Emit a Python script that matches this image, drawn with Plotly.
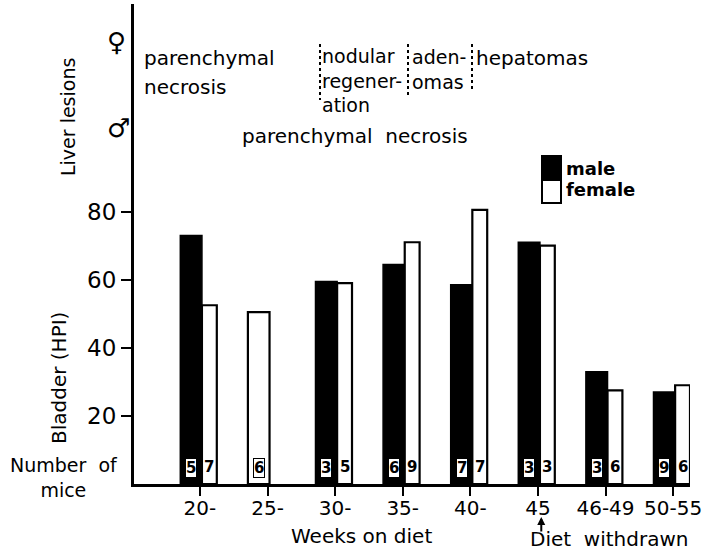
import plotly.graph_objects as go

# ---- data ----
weeks = ["20-", "25-", "30-", "35-", "40-", "45", "46-49", "50-55"]
male_hpi = [73, None, 59.5, 64.5, 58.5, 71, 33, 27]
female_hpi = [52.5, 50.5, 59, 71, 80.5, 70, 27.5, 29]
male_mice = [5, None, 3, 6, 7, 3, 3, 9]
female_mice = [7, 6, 5, 9, 7, 3, 6, 6]
yticks = [20, 40, 60, 80]

# ---- geometry (pixels of the 707x555 page) ----
FW, FH = 707, 555
L, R, T, B = 134, 690, 4, 484
PW, PH = R - L, B - T
FONT = "DejaVu Sans"

def px(x):
    return (x - L) / PW

def py(y):
    return (B - y) / PH

m_off, m_w = -0.29, 0.32
f_off, f_w = 0.03, 0.22
f_offsets = [f_off if m is not None else m_off for m in male_hpi]
f_widths = [f_w if m is not None else m_w for m in male_hpi]

fig = go.Figure()
fig.add_trace(go.Bar(x=weeks, y=male_hpi, name="male", offset=m_off, width=m_w,
                     marker=dict(color="black", line=dict(color="black", width=1.5))))
fig.add_trace(go.Bar(x=weeks, y=female_hpi, name="female", offset=f_offsets, width=f_widths,
                     marker=dict(color="white", line=dict(color="black", width=2.2))))

ann = []
# number of mice labels
for i, (mm, fm) in enumerate(zip(male_mice, female_mice)):
    if mm is not None:
        ann.append(dict(x=i + m_off + m_w / 2, y=0, xref="x", yref="y", text=f"<b>{mm}</b>",
                        showarrow=False, yanchor="bottom", yshift=6,
                        font=dict(family=FONT, size=15, color="black"),
                        bgcolor="white", bordercolor="black", borderwidth=1, borderpad=0))
        ann.append(dict(x=i + f_offsets[i] + f_widths[i] / 2, y=0, xref="x", yref="y",
                        text=f"<b>{fm}</b>", showarrow=False, yanchor="bottom", yshift=6,
                        font=dict(family=FONT, size=15, color="black")))
    else:
        ann.append(dict(x=i + f_offsets[i] + f_widths[i] / 2, y=0, xref="x", yref="y",
                        text=f"<b>{fm}</b>", showarrow=False, yanchor="bottom", yshift=6,
                        font=dict(family=FONT, size=15, color="black"),
                        bgcolor="white", bordercolor="black", borderwidth=1, borderpad=0))

def txt(x, y, s, size=20, xanchor="left", angle=0, align="left"):
    ann.append(dict(x=px(x), y=py(y), xref="paper", yref="paper", text=s, showarrow=False,
                    xanchor=xanchor, yanchor="middle", textangle=angle, align=align,
                    font=dict(family=FONT, size=size, color="black")))

# liver lesion texts
txt(142, 58, "parenchymal")
txt(142, 87, "necrosis")
txt(320, 80, "nodular<br>regener-<br>ation", size=19)
txt(410, 70, "aden-<br>omas", size=19)
txt(474, 58, "hepatomas")
txt(240, 136, "parenchymal  necrosis")
txt(116, 42, "♀", size=26, xanchor="center")
txt(118, 128, "♂", size=26, xanchor="center")
txt(68, 117, "Liver lesions", size=19, xanchor="center", angle=-90)
txt(59, 378, "Bladder (HPI)", size=20, xanchor="center", angle=-90)
txt(64, 477, "Number  of<br>mice", size=19, xanchor="center", align="center")
txt(361, 536, "Weeks on diet", size=20, xanchor="center")
txt(609, 539, "Diet  withdrawn", size=20, xanchor="center")
txt(564, 168, "<b>male</b>", size=18)
txt(564, 190, "<b>female</b>", size=18)

# arrow for diet withdrawn
ann.append(dict(x=5.05, y=py(517), xref="x", yref="paper", ax=0, ay=16, text="",
                showarrow=True, arrowhead=2, arrowsize=0.8, arrowwidth=2, arrowcolor="black"))

shapes = []
# dotted separators
for xx, y1 in [(320, 100), (408, 97), (472, 90)]:
    shapes.append(dict(type="line", xref="paper", yref="paper", x0=px(xx), x1=px(xx),
                       y0=py(44), y1=py(y1), line=dict(color="black", width=2, dash="dot")))
# legend boxes
shapes.append(dict(type="rect", xref="paper", yref="paper", x0=px(542), x1=px(561),
                   y0=py(180), y1=py(156), fillcolor="black", line=dict(color="black", width=2)))
shapes.append(dict(type="rect", xref="paper", yref="paper", x0=px(542), x1=px(561),
                   y0=py(203), y1=py(180), fillcolor="white", line=dict(color="black", width=2)))

fig.update_layout(
    width=FW, height=FH,
    margin=dict(l=L, r=FW - R, t=T, b=FH - B),
    paper_bgcolor="white", plot_bgcolor="white",
    barmode="overlay", showlegend=False,
    font=dict(family=FONT, color="black"),
    annotations=ann, shapes=shapes,
    xaxis=dict(type="category", range=[-0.975, 7.25], showline=True, linecolor="black",
               linewidth=3, ticks="outside", ticklen=9, tickwidth=2, tickcolor="black",
               ticklabelstandoff=-5,
               tickfont=dict(family=FONT, size=20, color="black"), showgrid=False,
               zeroline=False, fixedrange=True),
    yaxis=dict(range=[0, (B - T) / 3.405], showline=True, linecolor="black", linewidth=3,
               tickvals=yticks, ticks="outside", ticklen=10, tickwidth=2, tickcolor="black",
               tickfont=dict(family=FONT, size=23, color="black"), showgrid=False,
               zeroline=False, fixedrange=True),
)

fig.write_html("out.html", config={"displayModeBar": False},
               post_script="document.body.style.margin='0';document.body.style.overflow='hidden';")
